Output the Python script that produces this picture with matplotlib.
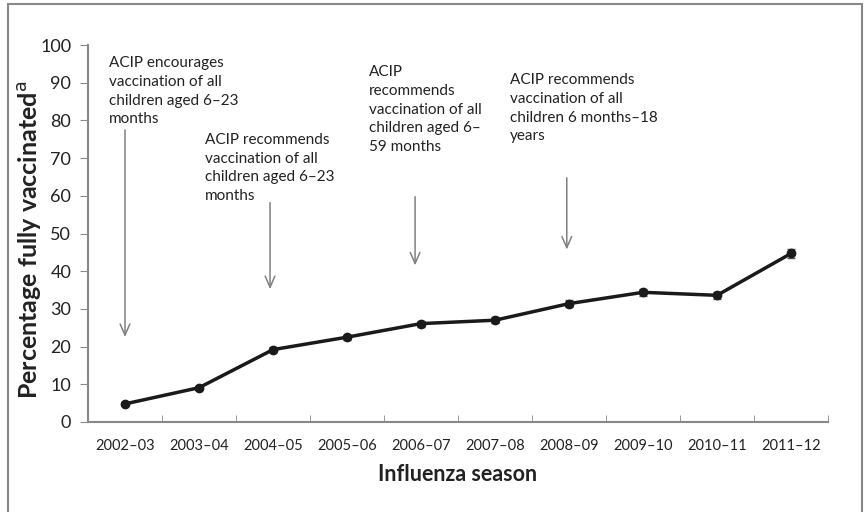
import numpy as np
import matplotlib.pyplot as plt
from matplotlib.patches import Rectangle

plt.rcParams['font.family'] = ['Lato', 'DejaVu Sans']

seasons = ["2002–03", "2003–04", "2004–05", "2005–06", "2006–07",
           "2007–08", "2008–09", "2009–10", "2010–11", "2011–12"]
pct = [4.8, 9.1, 19.2, 22.5, 26.1, 27.0, 31.4, 34.4, 33.6, 44.7]
err = [0.4, 0.5, 0.7, 0.7, 0.8, 0.8, 0.9, 0.9, 0.9, 1.1]

notes = [
    "ACIP encourages\nvaccination of all\nchildren aged 6–23\nmonths",
    "ACIP recommends\nvaccination of all\nchildren aged 6–23\nmonths",
    "ACIP\nrecommends\nvaccination of all\nchildren aged 6–\n59 months",
    "ACIP recommends\nvaccination of all\nchildren 6 months–18\nyears",
]
note_xy = [(-0.22, 97.0), (1.08, 76.6), (3.3, 94.6), (5.2, 92.5)]
arrow_x = [0.0, 1.96, 3.92, 5.97]
arrow_top = [78.2, 58.9, 60.5, 65.5]
arrow_bot = [21.8, 34.5, 40.8, 45.0]

fig = plt.figure(figsize=(8.66, 5.12), dpi=100)
ax = fig.add_axes([88 / 866, 1 - 422 / 512, (828 - 88) / 866, (422 - 45) / 512])

x = np.arange(len(seasons))
ax.errorbar(x, pct, yerr=err, color="#1a1a1a", lw=2.5, marker="o", ms=6,
            ecolor="#555555", elinewidth=1, capsize=3, zorder=3)

for t, (nx, ny) in zip(notes, note_xy):
    ax.text(nx, ny, t, fontsize=11, color="#222222", va="top", ha="left",
            linespacing=1.42)
for xa, top, bot in zip(arrow_x, arrow_top, arrow_bot):
    ax.annotate("", xy=(xa, bot), xytext=(xa, top),
                arrowprops=dict(arrowstyle="->,head_length=0.8,head_width=0.35",
                                color="#808080", lw=1.1))

ax.set_xlim(-0.5, len(seasons) - 0.5)
ax.set_ylim(0, 100)
ax.set_yticks(range(0, 101, 10))
ax.set_yticklabels([str(v) for v in range(0, 101, 10)], fontsize=13, color="#222222")
ax.set_xticks(x)
ax.set_xticklabels(seasons, fontsize=10.5, color="#222222")
ax.set_xticks(np.arange(-0.5, len(seasons), 1), minor=True)
ax.tick_params(axis="x", which="major", length=0, pad=12)
ax.tick_params(axis="x", which="minor", length=5, direction="in", color="#888888")
ax.tick_params(axis="y", length=6, color="#888888", pad=6)

for s in ["top", "right"]:
    ax.spines[s].set_visible(False)
for s in ["left", "bottom"]:
    ax.spines[s].set_color("#888888")
    ax.spines[s].set_linewidth(1.5)

ax.set_xlabel("Influenza season", fontsize=15.5, fontweight="bold", color="#222222", labelpad=8)
ax.set_ylabel("Percentage fully vaccinated$^{\\mathrm{a}}$", fontsize=18,
              fontweight="bold", color="#222222")
ax.yaxis.set_label_coords(-0.06, 0.483)

fig.patches.append(Rectangle((8 / 866, -0.01), (862 - 8) / 866, 1 - 4 / 512 + 0.01,
                             transform=fig.transFigure, fill=False,
                             edgecolor="#888888", lw=1.5))

fig.savefig("out.png", dpi=100)
